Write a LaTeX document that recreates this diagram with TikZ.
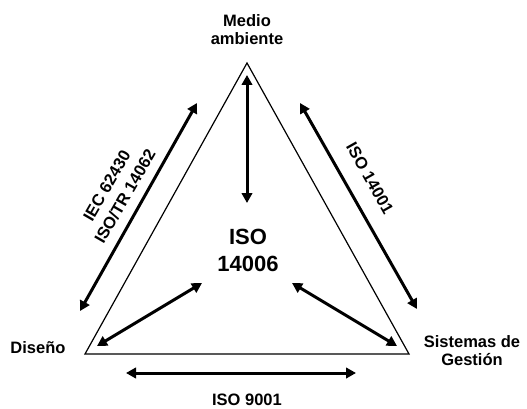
\documentclass[tikz,border=0pt]{standalone}
\usepackage{fontspec}
\setmainfont{Liberation Sans}
\usetikzlibrary{arrows.meta}

\begin{document}
\begin{tikzpicture}[x=1pt, y=-1pt,
        every node/.style={font=\bfseries\fontsize{16.5}{18}\selectfont, align=center, inner sep=0pt},
        link/.style={{Triangle[length=10pt,width=10.5pt]}-{Triangle[length=10pt,width=10.5pt]}, line width=3pt},
        norm/.style={font=\bfseries\fontsize{16.5}{21}\selectfont}
    ]
    \useasboundingbox (0,0) rectangle (527,409);

    % triangle corners
    \coordinate (top) at (247,63);
    \coordinate (left) at (85,354);
    \coordinate (right) at (409,354);
    \draw[line width=1.2pt] (top) -- (left) -- (right) -- cycle;

    \node (medio) at (247,30) {Medio\\ambiente};
    \node (diseno) at (38,348) {Diseño};
    \node (gestion) at (472,351) {Sistemas de\\Gestión};
    \node[font=\bfseries\fontsize{22}{27}\selectfont] (iso) at (248,250.5) {ISO\\14006};

    % arrow ends
    \coordinate (a1) at (247,75);   \coordinate (b1) at (247,203);
    \coordinate (a2) at (80,311);   \coordinate (b2) at (197,103);
    \coordinate (a3) at (300,103);  \coordinate (b3) at (417,309);
    \coordinate (a4) at (97,346);   \coordinate (b4) at (202,283);
    \coordinate (a5) at (292,283);  \coordinate (b5) at (397,346);
    \coordinate (a6) at (126,373);  \coordinate (b6) at (356,373);

    \draw[link] (a1) -- (b1);
    \draw[link] (a2) -- (b2);
    \draw[link] (a3) -- (b3);
    \draw[link] (a4) -- (b4);
    \draw[link] (a5) -- (b5);
    \draw[link] (a6) -- (b6);

    \node[norm, rotate=60] (iec) at (116,191) {IEC 62430\\ISO/TR 14062};
    \node[norm, rotate=-60.6] (iso14001) at (370,178) {ISO 14001};
    \node[norm] (iso9001) at (247,400) {ISO 9001};
\end{tikzpicture}
\end{document}
